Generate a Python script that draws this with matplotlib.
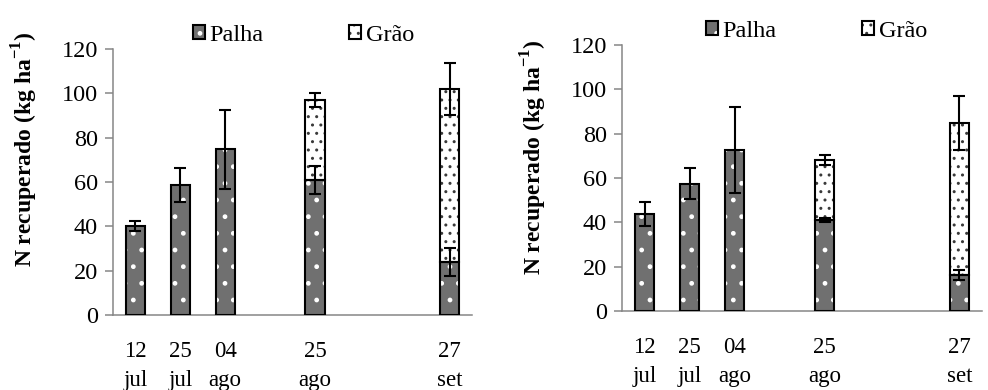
import numpy as np
import matplotlib
matplotlib.use('Agg')
import matplotlib.pyplot as plt
from matplotlib.patches import Patch

plt.rcParams['font.family'] = ['Liberation Serif', 'DejaVu Serif']
plt.rcParams['mathtext.fontset'] = 'custom'
plt.rcParams['mathtext.rm'] = 'Liberation Serif'
plt.rcParams['mathtext.bf'] = 'Liberation Serif:bold'
plt.rcParams['hatch.linewidth'] = 1.0

# Data
dates = ['12\njul', '25\njul', '04\nago', '25\nago', '27\nset']
slots = [0, 1, 2, 4, 7]  # category slots (8 slots, some empty)

palha_a = [40.3, 58.6, 74.7, 60.9, 24.1]
palha_a_err = [2.2, 7.6, 17.8, 6.3, 6.3]
grao_a = [0, 0, 0, 36.1, 77.7]
grao_a_err = [np.nan, np.nan, np.nan, 3.0, 11.7]

palha_b = [43.7, 57.5, 72.6, 41.0, 16.1]
palha_b_err = [5.5, 6.8, 19.3, 1.0, 2.2]
grao_b = [0, 0, 0, 27.1, 68.8]
grao_b_err = [np.nan, np.nan, np.nan, 2.2, 12.1]

PALHA_FACE = '#707070'
GRAO_FACE = 'white'
GRAO_DOT = '#3a3a3a'
AXIS_GREY = '#868686'


def draw_panel(ax, palha, palha_err, grao, grao_err, leg_x):
    x = np.array(slots)
    w = 0.43
    # Palha fill (white dots on grey) + outline
    ax.bar(x, palha, w, color=PALHA_FACE, edgecolor='white', hatch='.', linewidth=0, zorder=2)
    ax.bar(x, palha, w, fill=False, edgecolor='black', linewidth=1.5, zorder=3)
    # Grao fill (grey dots on white) + outline
    gx = [xi for xi, g in zip(x, grao) if g > 0]
    gb = [p for p, g in zip(palha, grao) if g > 0]
    gh = [g for g in grao if g > 0]
    ax.bar(gx, gh, w, bottom=gb, color=GRAO_FACE, edgecolor=GRAO_DOT, hatch='..', linewidth=0, zorder=2)
    ax.bar(gx, gh, w, bottom=gb, fill=False, edgecolor='black', linewidth=1.5, zorder=3)

    # error bars
    ax.errorbar(x, palha, yerr=palha_err, fmt='none', ecolor='black', elinewidth=1.5,
                capsize=4.3, capthick=1.5, zorder=4)
    tot = np.array(palha) + np.array(grao)
    ax.errorbar(x, tot, yerr=grao_err, fmt='none', ecolor='black', elinewidth=1.5,
                capsize=4.3, capthick=1.5, zorder=4)

    ax.set_xlim(-0.5, 7.5)
    ax.set_ylim(0, 120)
    ax.set_yticks(np.arange(0, 121, 20))
    ax.set_xticks(x)
    ax.set_xticklabels(dates, fontsize=16.5, linespacing=1.45)
    ax.tick_params(axis='x', length=0, pad=19)
    ax.tick_params(axis='y', labelsize=17.5, length=6, width=1.1, color=AXIS_GREY, pad=5)
    for s in ['top', 'right']:
        ax.spines[s].set_visible(False)
    for s in ['left', 'bottom']:
        ax.spines[s].set_color(AXIS_GREY)
        ax.spines[s].set_linewidth(1.1)

    h_palha = (Patch(facecolor=PALHA_FACE, edgecolor='white', hatch='.', linewidth=0),
               Patch(fill=False, edgecolor='black', linewidth=1.5))
    h_grao = (Patch(facecolor=GRAO_FACE, edgecolor=GRAO_DOT, hatch='..', linewidth=0),
              Patch(fill=False, edgecolor='black', linewidth=1.5))
    ax.legend([h_palha, h_grao], ['Palha', 'Grão'], ncol=2, frameon=False, fontsize=17.5,
              handlelength=0.5, handleheight=0.5, handletextpad=0.2, columnspacing=3.5,
              loc='lower center', bbox_to_anchor=(leg_x, 0.975), borderaxespad=0.0)


fig = plt.figure(figsize=(9.88, 3.90), dpi=100)
ax1 = fig.add_axes([0.1144, 0.1923, 0.3633, 0.6821])
ax2 = fig.add_axes([0.6296, 0.2026, 0.3643, 0.6820])

draw_panel(ax1, palha_a, palha_a_err, grao_a, grao_a_err, 0.53)
draw_panel(ax2, palha_b, palha_b_err, grao_b, grao_b_err, 0.54)

ylab = r'N recuperado (kg ha$^{\mathbf{-1}}$)'
fig.text(25 / 988, 1 - 149 / 390, ylab, rotation=90, ha='center', va='center',
         fontsize=17, fontweight='bold')
fig.text(534 / 988, 1 - 157 / 390, ylab, rotation=90, ha='center', va='center',
         fontsize=17, fontweight='bold')

fig.savefig('out.png', dpi=100)
